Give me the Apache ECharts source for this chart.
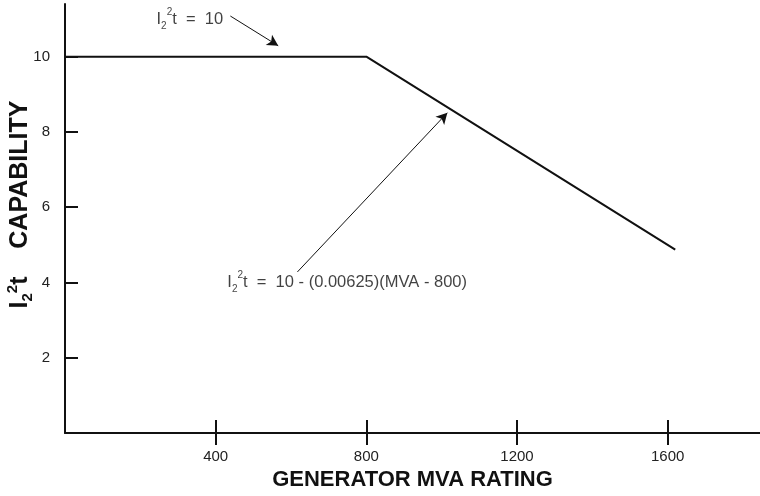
<!DOCTYPE html>
<html>
<head>
<meta charset="utf-8">
<script src="https://cdn.jsdelivr.net/npm/echarts@6/dist/echarts.min.js"></script>
<style>
  html, body { margin: 0; padding: 0; background: #fff; }
  #chart { width: 760px; height: 496px; }
</style>
</head>
<body>
<div id="chart"></div>
<script>
// Negative-sequence I2^2 t capability versus generator rating
const mvaPoints = [0, 800, 1620];
const capability = [10, 10, 4.875];

const xTicks = [400, 800, 1200, 1600];
const yTicks = [2, 4, 6, 8, 10];

// Annotation anchors (data units) and their arrows
const noteFlat = { at: [243, 11.0], from: [439, 11.08], to: [566, 10.29] };
const noteSlope = { at: [431, 4.0], from: [617, 4.28], to: [1015, 8.51] };

const FONT = 'Liberation Sans, Arial, Helvetica, sans-serif';
const INK = '#111';

const chart = echarts.init(document.getElementById('chart'), null, { renderer: 'canvas' });

const noteRich = {
  n:   { fontFamily: FONT, fontSize: 16.5, color: INK, lineHeight: 24, verticalAlign: 'middle' },
  nsb: { fontFamily: FONT, fontSize: 10, color: INK, lineHeight: 10, verticalAlign: 'bottom' },
  nsp: { fontFamily: FONT, fontSize: 10, color: INK, lineHeight: 12, verticalAlign: 'top' }
};

const bottomAxisBase = {
  type: 'value',
  position: 'bottom',
  min: 0,
  max: 1845,
  interval: 400,
  splitLine: { show: false }
};

chart.setOption({
  animation: false,
  backgroundColor: '#fff',
  grid: { left: 65, right: 0, top: 4, bottom: 63, containLabel: false, outerBoundsMode: 'none' },
  xAxis: [
    Object.assign({}, bottomAxisBase, {
      name: 'GENERATOR MVA RATING',
      nameLocation: 'middle',
      nameGap: 36,
      nameMoveOverlap: false,
      nameTextStyle: { fontFamily: FONT, fontSize: 22, fontWeight: 'bold', color: INK },
      axisLine: { show: true, lineStyle: { color: INK, width: 2 } },
      axisTick: { show: true, inside: true, length: 13, customValues: xTicks, lineStyle: { color: INK, width: 2 } },
      axisLabel: {
        customValues: xTicks,
        margin: 16,
        fontFamily: FONT, fontSize: 15, color: '#222',
        formatter: v => (xTicks.indexOf(v) >= 0 ? String(v) : '')
      }
    }),
    Object.assign({}, bottomAxisBase, {
      axisLine: { show: false },
      axisTick: { show: true, inside: false, length: 12, customValues: xTicks, lineStyle: { color: INK, width: 2 } },
      axisLabel: { show: false }
    })
  ],
  yAxis: {
    type: 'value',
    min: 0,
    max: 11.4,
    interval: 2,
    name: '{m|I}{sb|2}{sp|2}{m|t    CAPABILITY}',
    nameLocation: 'middle',
    nameGap: 30,
    nameMoveOverlap: false,
    nameTextStyle: {
      padding: [0, 0, 0, 28],
      rich: {
        m:  { fontFamily: FONT, fontSize: 25, fontWeight: 'bold', color: INK, lineHeight: 30, verticalAlign: 'middle' },
        sb: { fontFamily: FONT, fontSize: 15, fontWeight: 'bold', color: INK, lineHeight: 15, verticalAlign: 'bottom' },
        sp: { fontFamily: FONT, fontSize: 15, fontWeight: 'bold', color: INK, lineHeight: 18, verticalAlign: 'top' }
      }
    },
    splitLine: { show: false },
    axisLine: { show: true, lineStyle: { color: INK, width: 2 } },
    axisTick: { show: true, inside: true, length: 13, customValues: yTicks, lineStyle: { color: INK, width: 2 } },
    axisLabel: {
      customValues: yTicks,
      margin: 15,
      fontFamily: FONT, fontSize: 15, color: '#222',
      formatter: v => (yTicks.indexOf(v) >= 0 ? String(v) : '')
    }
  },
  series: [
    {
      type: 'line',
      name: 'capability',
      data: mvaPoints.map((x, i) => [x, capability[i]]),
      symbol: 'none',
      lineStyle: { color: INK, width: 2 },
      markLine: {
        silent: true,
        symbol: ['none', 'arrow'],
        symbolSize: [9, 11],
        label: { show: false },
        lineStyle: { color: INK, width: 1, type: 'solid' },
        data: [
          [{ coord: noteFlat.from }, { coord: noteFlat.to }],
          [{ coord: noteSlope.from }, { coord: noteSlope.to }]
        ]
      }
    },
    {
      type: 'scatter',
      name: 'notes',
      symbolSize: 0,
      silent: true,
      data: [
        { value: noteFlat.at, label: { formatter: '{n|I}{nsb|2}{nsp|2}{n|t  =  10}' } },
        { value: noteSlope.at, label: { formatter: '{n|I}{nsb|2}{nsp|2}{n|t  =  10 - (0.00625)(MVA - 800)}' } }
      ],
      label: { show: true, position: 'right', distance: 0, rich: noteRich }
    }
  ]
});
</script>
</body>
</html>
